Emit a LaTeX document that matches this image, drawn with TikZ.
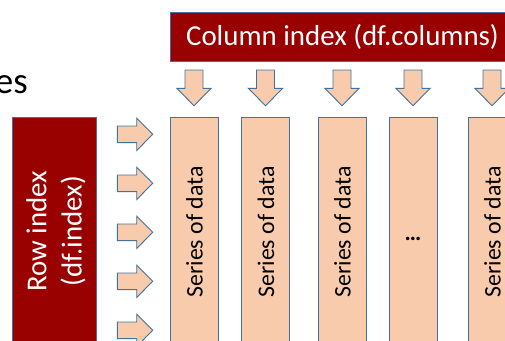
\documentclass[tikz,border=0pt]{standalone}
\usepackage{fontspec}
\setmainfont{Carlito}
\definecolor{darkred}{RGB}{153,0,0}
\definecolor{peach}{RGB}{248,203,173}
\definecolor{edgeblue}{RGB}{65,113,156}
\begin{document}
\begin{tikzpicture}[x=1pt,y=-1pt,
  redbox/.style={draw=edgeblue,line width=0.9pt,fill=darkred},
  seriesbox/.style={draw=edgeblue,line width=0.9pt,fill=peach},
  blockarrow/.style={draw=edgeblue,line width=0.9pt,fill=peach,line join=miter},
  serieslabel/.style={rotate=90,anchor=base,inner sep=0pt,font=\fontsize{23.8}{28}\selectfont},
  whitelabel/.style={text=white,inner sep=0pt,font=\fontsize{28.9}{35.2}\selectfont},
  downarrow/.pic={\draw[blockarrow] (-9,0) -- (9,0) -- (9,18.3) -- (17.2,18.3) -- (0,35.7) -- (-17.2,18.3) -- (-9,18.3) -- cycle;},
  rightarrow/.pic={\draw[blockarrow] (0,-8.3) -- (19.4,-8.3) -- (19.4,-16.2) -- (35.4,0) -- (19.4,16.2) -- (19.4,8.3) -- (0,8.3) -- cycle;}
]
\useasboundingbox (0,0) rectangle (505,340);
\begin{scope}
\clip (0,0) rectangle (505,340);
% partial title word
\node[anchor=base east,inner sep=0pt,font=\fontsize{37}{44}\selectfont] (es) at (28,93) {es};
% column index
\draw[redbox] (170,12.7) rectangle (520,61);
\node[whitelabel,anchor=base] (colidx) at (342.5,45.7) {Column index (df.columns)};
% row index
\draw[redbox] (12,117) rectangle (96,360);
\node[whitelabel,rotate=90,align=center] (rowidx) at (56,231) {Row index\\(df.index)};
% series columns
\foreach \c/\n in {194/s1,265.5/s2,342/s3,413/s4,492/s5}{
  \draw[seriesbox] (\c-24,117) rectangle (\c+24,360);
  \pic at (\c,70) {downarrow};
}
\node[serieslabel] (t1) at (202.5,232) {Series of data};
\node[serieslabel] (t2) at (274,232) {Series of data};
\node[serieslabel] (t3) at (350.5,232) {Series of data};
\node[inner sep=0pt,font=\bfseries\fontsize{23.5}{28}\selectfont,anchor=base] (t4) at (413,240) {…};
\node[serieslabel] (t5) at (500.5,232) {Series of data};
% row arrows
\foreach \y in {134.3,183.3,232.3,281.3,330.3}{
  \pic at (117.3,\y) {rightarrow};
}
\end{scope}
\end{tikzpicture}
\end{document}
